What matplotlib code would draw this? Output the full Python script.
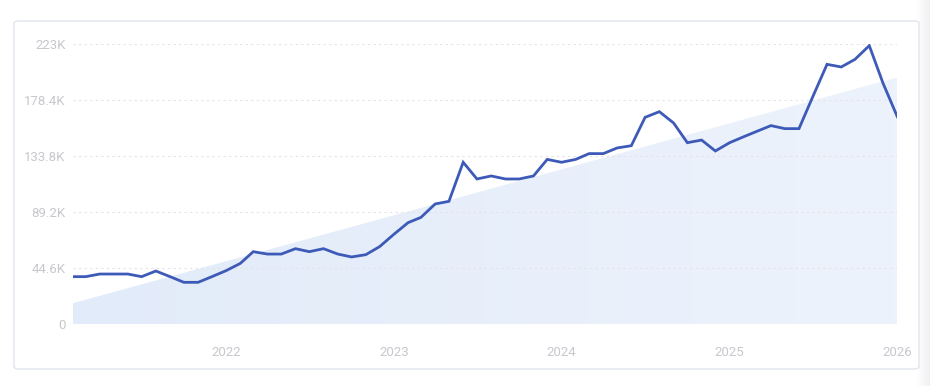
import matplotlib
matplotlib.use("Agg")
import matplotlib.pyplot as plt
import matplotlib.dates as mdates
from matplotlib.patches import FancyBboxPatch, Polygon
import numpy as np
import pandas as pd

# monthly values, thousands (Feb 2021 .. Jan 2026)
values = [
    37.7, 37.7, 39.8, 39.8, 39.8, 37.7, 42.2, 37.7, 33.2, 33.2, 37.7,
    42.5, 48.3, 57.6, 55.7, 55.7, 60.0, 57.6, 60.0, 55.7, 53.4, 55.2, 61.6,
    71.4, 80.7, 84.9, 95.6, 97.7, 128.8, 115.5, 117.9, 115.5, 115.5, 117.9, 131.1,
    128.8, 131.1, 135.7, 135.7, 140.2, 142.0, 164.6, 169.1, 160.1, 144.4, 146.5, 137.8,
    144.4, 149.2, 153.4, 158.0, 155.6, 155.6, 181.0, 206.8, 204.7, 210.8, 221.7, 191.7,
    165.1,
]
start_month = "2021-02-01"
trend_ends = [16.5, 196.4]  # trend at first and last month

y_ticks = [0, 44.6, 89.2, 133.8, 178.4, 223]
y_labels = ["0", "44.6K", "89.2K", "133.8K", "178.4K", "223K"]
x_years = ["2022", "2023", "2024", "2025", "2026"]

LINE = "#3d5ab8"
LABEL = "#c7c7cd"

plt.rcParams["font.family"] = ["Roboto", "DejaVu Sans"]

dates = pd.date_range(start_month, periods=len(values), freq="MS")
xd = mdates.date2num(dates)

fig = plt.figure(figsize=(9.3, 3.86), dpi=100)
fig.patch.set_facecolor("white")

# soft shadow strip on the right
shadow = fig.add_axes([0.985, 0, 0.015, 1])
shadow.imshow(np.linspace(1, 0, 50).reshape(1, -1),
              cmap=matplotlib.colors.LinearSegmentedColormap.from_list("s", ["#f1f1f3", "#ffffff"]),
              aspect="auto", extent=[0, 1, 0, 1])
shadow.set_axis_off()

# card
card = FancyBboxPatch((14 / 930, 17 / 386), 905 / 930, 348 / 386,
                      boxstyle="round,pad=0,rounding_size=0.006",
                      transform=fig.transFigure, facecolor="white",
                      edgecolor="#e2e4ee", linewidth=1.0, zorder=1)
fig.patches.append(card)

ax = fig.add_axes([72.7 / 930, 62 / 386, 824.6 / 930, 280 / 386])
ax.set_facecolor("none")
ax.set_zorder(2)

# trend area with a light horizontal gradient
poly = Polygon([(xd[0], 0), (xd[0], trend_ends[0]), (xd[-1], trend_ends[1]), (xd[-1], 0)],
               closed=True, facecolor="none", edgecolor="none")
ax.add_patch(poly)
grad = ax.imshow(np.linspace(0, 1, 200).reshape(1, -1),
                 cmap=matplotlib.colors.LinearSegmentedColormap.from_list("g", ["#e2ebf9", "#edf3fc"]),
                 aspect="auto", extent=[xd[0], xd[-1], 0, 223], zorder=1)
grad.set_clip_path(poly)

for t in y_ticks[1:]:
    ax.axhline(t, color="#e3e3e8", linestyle=(0, (2, 3)), linewidth=0.8, zorder=2)

ax.plot(xd, values, color=LINE, linewidth=2.0, zorder=3, solid_joinstyle="miter")

ax.set_xlim(xd[0], xd[-1])
ax.set_ylim(0, 223)
ax.set_yticks(y_ticks)
ax.set_yticklabels(y_labels)
ax.set_xticks([mdates.date2num(pd.Timestamp(f"{y}-01-01")) for y in x_years])
ax.set_xticklabels(x_years)
ax.tick_params(axis="both", length=0, colors=LABEL, labelsize=9.5)
ax.tick_params(axis="x", pad=15.5)
ax.tick_params(axis="y", pad=5)
for s in ax.spines.values():
    s.set_visible(False)

fig.savefig("out.png", dpi=100, facecolor="white")
